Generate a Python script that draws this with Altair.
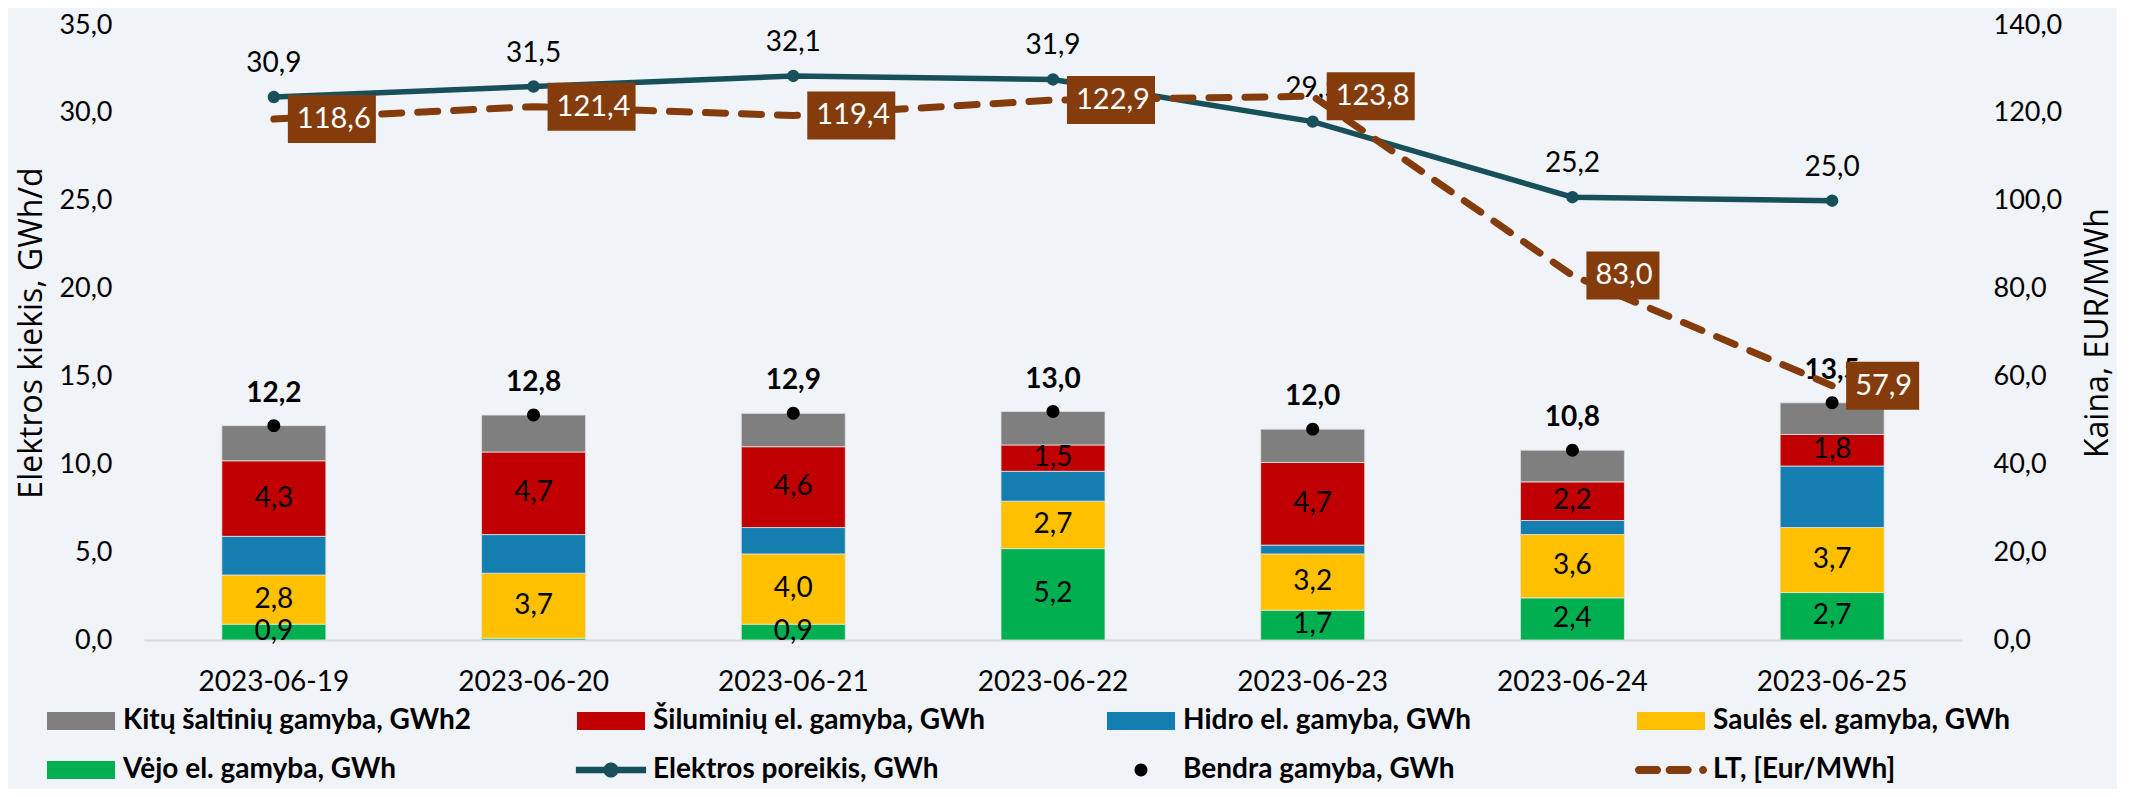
import altair as alt
import pandas as pd

# ---------------- data ----------------
dates = ["2023-06-19", "2023-06-20", "2023-06-21", "2023-06-22",
         "2023-06-23", "2023-06-24", "2023-06-25"]

vejo = [0.9, 0.1, 0.9, 5.2, 1.7, 2.4, 2.7]
saules = [2.8, 3.7, 4.0, 2.7, 3.2, 3.6, 3.7]
hidro = [2.2, 2.2, 1.5, 1.7, 0.5, 0.8, 3.5]
siluminiu = [4.3, 4.7, 4.6, 1.5, 4.7, 2.2, 1.8]
kitu = [2.0, 2.1, 1.9, 1.9, 1.9, 1.8, 1.8]
bendra = [12.2, 12.8, 12.9, 13.0, 12.0, 10.8, 13.5]
poreikis = [30.9, 31.5, 32.1, 31.9, 29.5, 25.2, 25.0]
lt_price = [118.6, 121.4, 119.4, 122.9, 123.8, 83.0, 57.9]

left_ticks = [0, 5, 10, 15, 20, 25, 30, 35]
right_ticks = [0, 20, 40, 60, 80, 100, 120, 140]

S_KITU = "Kitų šaltinių gamyba, GWh2"
S_SIL = "Šiluminių el. gamyba, GWh"
S_HID = "Hidro el. gamyba, GWh"
S_SAU = "Saulės el. gamyba, GWh"
S_VEJ = "Vėjo el. gamyba, GWh"
S_POR = "Elektros poreikis, GWh"
S_BEN = "Bendra gamyba, GWh"
S_LT = "LT, [Eur/MWh]"

# ---------------- styles ----------------
C_KITU, C_SIL, C_HID, C_SAU, C_VEJ = "#7F7F7F", "#C00000", "#157EB1", "#FFC000", "#00B050"
C_POR, C_BEN, C_LT = "#17505A", "#000000", "#843C0C"
BG = "#F0F3F7"


def fmt(v):
    return f"{v:.1f}".replace(".", ",")


# stacked bar table (order 0 = bottom)
stack_def = [(S_VEJ, vejo), (S_SAU, saules), (S_HID, hidro), (S_SIL, siluminiu), (S_KITU, kitu)]
rows = []
for order, (name, vals) in enumerate(stack_def):
    for d, v in zip(dates, vals):
        rows.append({"date": d, "series": name, "order": order, "value": v, "lbl": fmt(v)})
df_bars = pd.DataFrame(rows)

df_ben = pd.DataFrame({"date": dates, "value": bendra, "series": S_BEN,
                       "lbl": [fmt(v) for v in bendra]})
df_por = pd.DataFrame({"date": dates, "value": poreikis, "lbl": [fmt(v) for v in poreikis]})
df_lt = pd.DataFrame({"date": dates, "value": lt_price, "lbl": [fmt(v) for v in lt_price]})
df_lt["n"] = df_lt["lbl"].str.len()

# legend symbol paths (unit = 18px with size 1296)
BOUNDS = " M-2,0H2 M0,-0.5V0.5"
RECT = "M-1.89,-0.5H1.89V0.5H-1.89Z" + BOUNDS


def rdash(a, b, r):
    return (f"M{a + r:.3f},{-r}H{b - r:.3f}A{r},{r} 0 0,1 {b - r:.3f},{r}"
            f"H{a + r:.3f}A{r},{r} 0 0,1 {a + r:.3f},{-r}Z")


ELEK = ("M-1.95,-0.18H1.95V0.18H-1.95Z "
        "M0.42,0A0.42,0.42 0 1,1 -0.42,0A0.42,0.42 0 1,1 0.42,0Z" + BOUNDS)
DOT = "M0.36,0A0.36,0.36 0 1,1 -0.36,0A0.36,0.36 0 1,1 0.36,0Z" + BOUNDS
LTD = " ".join([rdash(-2.0, -0.55, 0.22), rdash(-0.3, 1.15, 0.22), rdash(1.56, 2.0, 0.22)]) + BOUNDS

legend_domain = [S_KITU, S_SIL, S_HID, S_SAU, S_VEJ, S_POR, S_BEN, S_LT]
legend_colors = [C_KITU, C_SIL, C_HID, C_SAU, C_VEJ, C_POR, C_BEN, C_LT]
legend_shapes = [RECT, RECT, RECT, RECT, RECT, ELEK, DOT, LTD]

# label boxes (size 2304 -> 1 unit = 24px)
BOX5 = "M0.583,-1H4.25V1H0.583Z"
BOX4 = "M0.583,-1H3.625V1H0.583Z"

# ---------------- encodings ----------------
x_axis = alt.Axis(title=None, labelAngle=0, domainColor="#D9D9D9", domainWidth=2,
                  ticks=False, grid=False, labelPadding=28, labelFont="Lato",
                  labelFontSize=28, labelColor="black")
X = alt.X("date:N", sort=dates, scale=alt.Scale(paddingInner=0, paddingOuter=0), axis=x_axis)

num_expr = "replace(format(datum.value, '.1f'), '.', ',')"
left_scale = alt.Scale(domain=[0, 35])
left_axis = alt.Axis(title="Elektros kiekis, GWh/d", orient="left", values=left_ticks,
                     labelExpr=num_expr, domain=False, ticks=False, grid=False,
                     labelPadding=32, labelFont="Lato", labelFontSize=27, labelColor="black",
                     titleFont="Open Sans", titleFontSize=32, titleFontWeight="normal",
                     titleColor="black", titleAngle=270, titleX=-113, titleY=307.5,
                     titleAlign="center", titleBaseline="middle")
right_scale = alt.Scale(domain=[0, 140])
right_axis = alt.Axis(title="Kaina, EUR/MWh", orient="right", values=right_ticks,
                      labelExpr=num_expr, domain=False, ticks=False, grid=False,
                      labelPadding=31, labelFont="Lato", labelFontSize=27, labelColor="black",
                      titleFont="Open Sans", titleFontSize=32, titleFontWeight="normal",
                      titleColor="black", titleAngle=270, titleX=135, titleY=307.5,
                      titleAlign="center", titleBaseline="middle")

legend = alt.Legend(title=None, orient="none", legendX=-81, legendY=678, columns=4,
                    direction="horizontal",
                    gridAlign="all", columnPadding=103, rowPadding=17, symbolSize=1296,
                    symbolStrokeWidth=0, symbolOpacity=1, labelFont="Lato", labelFontSize=28,
                    labelFontWeight="bold", labelColor="black", labelLimit=800,
                    labelOffset=24, padding=0)


def YL(field):
    return alt.Y(field, scale=left_scale, axis=left_axis)


def YR(field):
    return alt.Y(field, scale=right_scale, axis=right_axis)


# ---------------- left layers ----------------
stacked = alt.Chart(df_bars).transform_stack(
    stack="value", groupby=["date"], as_=["y0", "y1"],
    sort=[alt.SortField("order", order="ascending")])

bars = stacked.mark_bar(size=104, stroke="#E3E3E3", strokeWidth=0.8).encode(
    x=X, y=YL("y0:Q"), y2="y1:Q",
    fill=alt.Fill("series:N", scale=alt.Scale(domain=[S_KITU, S_SIL, S_HID, S_SAU, S_VEJ],
                                              range=[C_KITU, C_SIL, C_HID, C_SAU, C_VEJ]),
                  legend=None))

seg_labels = stacked.transform_filter(
    alt.FieldOneOfPredicate(field="series", oneOf=[S_VEJ, S_SAU, S_SIL])
).transform_filter("datum.value >= 0.5").transform_calculate(
    mid="(datum.y0 + datum.y1) / 2"
).mark_text(fontSize=28, font="Lato", color="black", baseline="middle").encode(
    x=X, y=YL("mid:Q"), text="lbl:N")

ben_points = alt.Chart(df_ben).mark_point(filled=True, size=1296, opacity=1, strokeWidth=0).encode(
    x=X, y=YL("value:Q"),
    color=alt.Color("series:N", scale=alt.Scale(domain=legend_domain, range=legend_colors), legend=legend),
    shape=alt.Shape("series:N", scale=alt.Scale(domain=legend_domain, range=legend_shapes), legend=legend))

ben_labels = alt.Chart(df_ben).mark_text(dy=-32, fontSize=28, font="Lato", fontWeight="bold",
                                         color="black", baseline="middle").encode(
    x=X, y=YL("value:Q"), text="lbl:N")

por_line = alt.Chart(df_por).mark_line(
    color=C_POR, strokeWidth=5.5,
    point=alt.OverlayMarkDef(filled=True, size=154, color=C_POR, opacity=1)).encode(
    x=X, y=YL("value:Q"))

por_labels = alt.Chart(df_por).mark_text(dy=-33, fontSize=28, font="Lato", color="black",
                                         baseline="middle").encode(
    x=X, y=YL("value:Q"), text="lbl:N")

left = alt.layer(bars, seg_labels, ben_points, ben_labels, por_line, por_labels)

# ---------------- right layers ----------------
lt_line = alt.Chart(df_lt).mark_line(color=C_LT, strokeWidth=7, strokeDash=[20, 16],
                                     strokeCap="round").encode(x=X, y=YR("value:Q"))

lt_box5 = alt.Chart(df_lt).transform_filter("datum.n == 5").mark_point(
    shape=BOX5, size=2304, filled=True, color=C_LT, opacity=1, strokeWidth=0).encode(
    x=X, y=YR("value:Q"))
lt_box4 = alt.Chart(df_lt).transform_filter("datum.n == 4").mark_point(
    shape=BOX4, size=2304, filled=True, color=C_LT, opacity=1, strokeWidth=0).encode(
    x=X, y=YR("value:Q"))

lt_labels = alt.Chart(df_lt).mark_text(align="left", dx=23, baseline="middle", fontSize=29,
                                       font="Lato", color="white").encode(
    x=X, y=YR("value:Q"), text="lbl:N")

right = alt.layer(lt_line, lt_box5, lt_box4, lt_labels)

chart = alt.layer(left, right).resolve_scale(y="independent").properties(
    width=1818, height=615,
    autosize=alt.AutoSizeParams(type="none"),
    padding={"left": 136, "top": 17, "right": 155, "bottom": 149},
).configure(background=BG, font="Lato").configure_view(stroke=None)

chart.save("out.html", embed_options={"renderer": "svg", "actions": False})
